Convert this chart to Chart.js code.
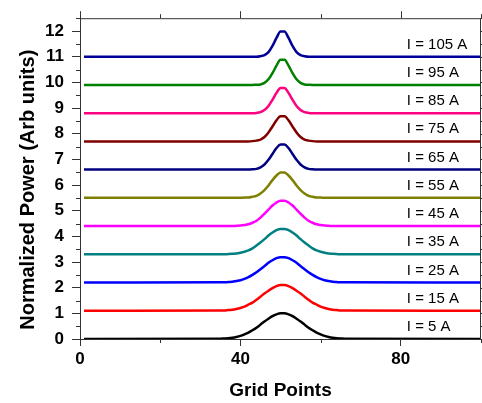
<!DOCTYPE html>
<html><head><meta charset="utf-8">
<script src="https://cdn.jsdelivr.net/npm/chart.js@4.4.1/dist/chart.umd.min.js"></script>
<style>html,body{margin:0;padding:0;background:#fff;}canvas{display:block;}</style>
</head><body>
<canvas id="c" width="482" height="403"></canvas>
<script>
// ---- data ----
const gridPoints = [1,35,36,37,38,39,40,41,42,43,44,45,46,47,48,49,50,51,52,53,54,55,56,57,58,59,60,61,62,63,64,65,66,100];
const seriesLabels = ['I = 5 A','I = 15 A','I = 25 A','I = 35 A','I = 45 A','I = 55 A','I = 65 A','I = 75 A','I = 85 A','I = 95 A','I = 105 A'];
const offsets = [0, 1.1, 2.2, 3.3, 4.4, 5.5, 6.6, 7.7, 8.8, 9.9, 11.0];
const p5   = [0,0.01,0.02,0.03,0.05,0.08,0.12,0.18,0.25,0.34,0.44,0.56,0.68,0.79,0.89,0.96,1.00,1.00,0.96,0.89,0.79,0.68,0.56,0.44,0.34,0.25,0.18,0.12,0.08,0.05,0.03,0.02,0.01,0];
const p15  = [0,0.01,0.01,0.03,0.04,0.07,0.11,0.16,0.24,0.32,0.43,0.55,0.67,0.78,0.88,0.96,1.00,1.00,0.96,0.88,0.78,0.67,0.55,0.43,0.32,0.24,0.16,0.11,0.07,0.04,0.03,0.01,0.01,0];
const p25  = [0,0.01,0.01,0.02,0.03,0.06,0.09,0.14,0.21,0.30,0.40,0.52,0.64,0.77,0.87,0.95,0.99,0.99,0.95,0.87,0.77,0.64,0.52,0.40,0.30,0.21,0.14,0.09,0.06,0.03,0.02,0.01,0.01,0];
const p35  = [0,0,0,0.01,0.02,0.03,0.06,0.10,0.15,0.23,0.34,0.46,0.59,0.73,0.85,0.94,0.99,0.99,0.94,0.85,0.73,0.59,0.46,0.34,0.23,0.15,0.10,0.06,0.03,0.02,0.01,0,0,0];
const p45  = [0,0,0,0,0,0.01,0.02,0.04,0.07,0.13,0.21,0.33,0.48,0.64,0.80,0.92,0.99,0.99,0.92,0.80,0.64,0.48,0.33,0.21,0.13,0.07,0.04,0.02,0.01,0,0,0,0,0];
const p55  = [0,0,0,0,0,0,0,0.01,0.01,0.04,0.08,0.17,0.30,0.48,0.69,0.87,0.99,0.99,0.87,0.69,0.48,0.30,0.17,0.08,0.04,0.01,0.01,0,0,0,0,0,0,0];
const p65  = [0,0,0,0,0,0,0,0,0,0.01,0.03,0.09,0.20,0.38,0.61,0.84,0.98,0.98,0.84,0.61,0.38,0.20,0.09,0.03,0.01,0,0,0,0,0,0,0,0,0];
const p75  = [0,0,0,0,0,0,0,0,0,0.01,0.03,0.07,0.17,0.35,0.58,0.82,0.98,0.98,0.82,0.58,0.35,0.17,0.07,0.03,0.01,0,0,0,0,0,0,0,0,0];
const p85  = [0,0,0,0,0,0,0,0,0,0,0.01,0.04,0.12,0.28,0.52,0.79,0.98,0.98,0.79,0.52,0.28,0.12,0.04,0.01,0,0,0,0,0,0,0,0,0,0];
const p95  = [0,0,0,0,0,0,0,0,0,0,0.01,0.02,0.08,0.22,0.46,0.75,0.98,0.98,0.75,0.46,0.22,0.08,0.02,0.01,0,0,0,0,0,0,0,0,0,0];
const p105 = [0,0,0,0,0,0,0,0,0,0,0,0.02,0.06,0.18,0.42,0.73,0.98,0.98,0.73,0.42,0.18,0.06,0.02,0,0,0,0,0,0,0,0,0,0,0];
const xTickValues = [0, 40, 80];
const xMinorValues = [20, 60, 100];
const yTickValues = [0,1,2,3,4,5,6,7,8,9,10,11,12];
const yMinorValues = [0.5,1.5,2.5,3.5,4.5,5.5,6.5,7.5,8.5,9.5,10.5,11.5,12.5];
const labelX = 81.5;
const labelLift = 0.47;

// ---- styles ----
const profiles = [p5,p15,p25,p35,p45,p55,p65,p75,p85,p95,p105];
const colors = ['#000000','#ff0000','#0000ff','#008080','#ff00ff','#808000','#000080','#800000','#ff0080','#008000','#000099'];
const axisColor = '#333333';

const datasets = profiles.map((p, i) => ({
  label: seriesLabels[i],
  data: gridPoints.map((x, k) => ({x: x, y: offsets[i] + p[k]})),
  borderColor: colors[i],
  backgroundColor: colors[i],
  borderWidth: 2.5,
  pointRadius: 0,
  fill: false,
  cubicInterpolationMode: 'monotone'
}));

const framePlugin = {
  id: 'frame',
  afterDraw(chart) {
    const ctx = chart.ctx, a = chart.chartArea;
    const xs = chart.scales.x, ys = chart.scales.y;
    ctx.save();
    ctx.strokeStyle = axisColor;
    ctx.lineWidth = 1;
    ctx.beginPath();
    ctx.moveTo(a.left, a.top + 0.5); ctx.lineTo(a.right, a.top + 0.5);
    ctx.moveTo(a.right - 0.5, a.top); ctx.lineTo(a.right - 0.5, a.bottom);
    // minor ticks left / right
    yMinorValues.forEach(v => {
      const y = Math.round(ys.getPixelForValue(v)) + 0.5;
      ctx.moveTo(a.left - 4, y); ctx.lineTo(a.left, y);
      ctx.moveTo(a.right, y); ctx.lineTo(a.right + 4, y);
    });
    yTickValues.forEach(v => {
      const y = Math.round(ys.getPixelForValue(v)) + 0.5;
      ctx.moveTo(a.right, y); ctx.lineTo(a.right + 8, y);
    });
    // minor ticks bottom / top
    xMinorValues.forEach(v => {
      const x = Math.round(xs.getPixelForValue(v)) + 0.5;
      ctx.moveTo(x, a.bottom); ctx.lineTo(x, a.bottom + 4);
      ctx.moveTo(x, a.top); ctx.lineTo(x, a.top - 4);
    });
    xTickValues.forEach(v => {
      const x = Math.round(xs.getPixelForValue(v)) + 0.5;
      ctx.moveTo(x, a.top); ctx.lineTo(x, a.top - 7);
    });
    ctx.stroke();
    // series labels
    ctx.fillStyle = '#000';
    ctx.font = '15px "Liberation Sans", Arial, sans-serif';
    ctx.textAlign = 'left';
    ctx.textBaseline = 'middle';
    seriesLabels.forEach((t, i) => {
      ctx.fillText(t, xs.getPixelForValue(labelX), ys.getPixelForValue(offsets[i] + labelLift));
    });
    ctx.restore();
  }
};

new Chart(document.getElementById('c'), {
  type: 'line',
  data: { datasets },
  plugins: [framePlugin],
  options: {
    responsive: false,
    devicePixelRatio: 1,
    animation: false,
    layout: { padding: { top: 12, right: 1, left: 0, bottom: 0 } },
    plugins: { legend: { display: false }, tooltip: { enabled: false } },
    scales: {
      x: {
        type: 'linear', min: 0, max: 100,
        afterBuildTicks: s => { s.ticks = xTickValues.map(v => ({value: v})); },
        afterFit: s => { s.height = 64; },
        grid: { display: true, drawOnChartArea: false, drawTicks: true, tickLength: 7, color: axisColor, lineWidth: 1 },
        border: { display: true, color: axisColor, width: 1 },
        ticks: { color: '#000', font: { family: '"Liberation Sans", Arial, sans-serif', size: 17, weight: 'bold' }, padding: 3, maxRotation: 0 },
        title: { display: true, text: 'Grid Points', color: '#000', font: { family: '"Liberation Sans", Arial, sans-serif', size: 19, weight: 'bold' }, padding: { top: 0, bottom: 1 } }
      },
      y: {
        type: 'linear', min: 0, max: 12.5,
        afterBuildTicks: s => { s.ticks = yTickValues.map(v => ({value: v})); },
        afterFit: s => { s.width = 80; },
        grid: { display: true, drawOnChartArea: false, drawTicks: true, tickLength: 8, color: axisColor, lineWidth: 1 },
        border: { display: true, color: axisColor, width: 1 },
        ticks: { color: '#000', font: { family: '"Liberation Sans", Arial, sans-serif', size: 17, weight: 'bold' }, padding: 8 },
        title: { display: true, text: 'Normalized Power (Arb units)    ', color: '#000', font: { family: '"Liberation Sans", Arial, sans-serif', size: 20, weight: 'bold' }, padding: { top: 16, bottom: 0 } }
      }
    }
  }
});
</script>
</body></html>
